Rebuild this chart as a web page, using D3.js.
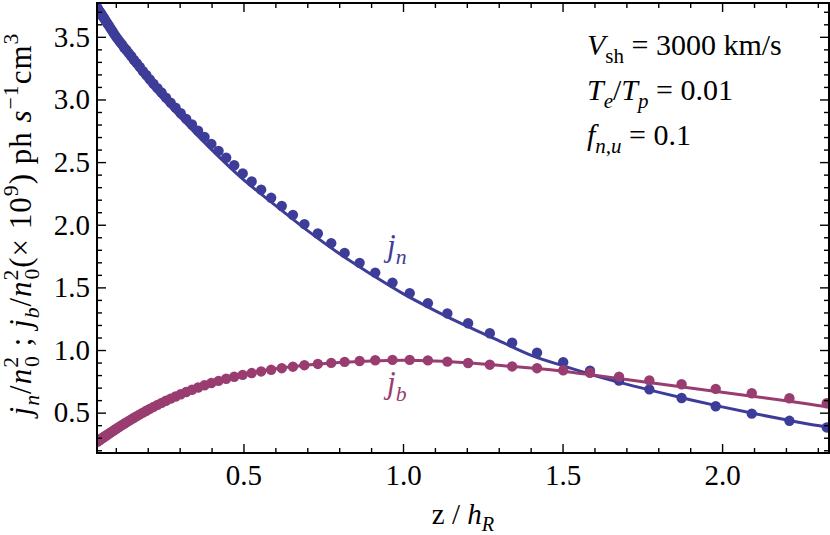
<!DOCTYPE html>
<html>
<head>
<meta charset="utf-8">
<script src="https://cdn.jsdelivr.net/npm/d3@7"></script>
<style>
  body { margin: 0; background: white; }
  svg text { font-family: "Liberation Serif", "Times New Roman", serif; }
</style>
</head>
<body>
<div id="chart"></div>
<script>
// data
var zDots = [0.0397, 0.0420, 0.0443, 0.0468, 0.0495, 0.0523, 0.0552, 0.0583, 0.0616, 0.0651,
  0.0688, 0.0727, 0.0768, 0.0811, 0.0857, 0.0906, 0.0957, 0.1011, 0.1068, 0.1128,
  0.1192, 0.1259, 0.1330, 0.1405, 0.1485, 0.1569, 0.1657, 0.1751, 0.1850, 0.1955,
  0.2065, 0.2182, 0.2305, 0.2435, 0.2573, 0.2718, 0.2872, 0.3034, 0.3206, 0.3387,
  0.3578, 0.3780, 0.3994, 0.4220, 0.4458, 0.4710, 0.4976, 0.5257, 0.5554, 0.5868,
  0.620, 0.655, 0.691, 0.733, 0.775, 0.817, 0.864, 0.913, 0.967, 1.021,
  1.078, 1.139, 1.204, 1.272, 1.342, 1.420, 1.502, 1.586, 1.677, 1.772,
  1.873, 1.980, 2.093, 2.211, 2.328];
var jnDots = [3.74, 3.73, 3.72, 3.71, 3.70, 3.69, 3.68, 3.665, 3.655, 3.64,
  3.625, 3.61, 3.595, 3.578, 3.56, 3.54, 3.52, 3.50, 3.48, 3.46,
  3.44, 3.415, 3.395, 3.37, 3.345, 3.315, 3.29, 3.26, 3.225, 3.195,
  3.16, 3.125, 3.09, 3.055, 3.015, 2.975, 2.935, 2.89, 2.845, 2.80,
  2.75, 2.70, 2.645, 2.59, 2.535, 2.475, 2.41, 2.345, 2.28, 2.215,
  2.15, 2.079, 2.005, 1.93, 1.853, 1.775, 1.696, 1.618, 1.538, 1.454,
  1.374, 1.292, 1.214, 1.134, 1.058, 0.978, 0.903, 0.835, 0.757, 0.686,
  0.617, 0.551, 0.492, 0.435, 0.382];
var jbDots = [0.266, 0.270, 0.274, 0.278, 0.283, 0.288, 0.293, 0.298, 0.304, 0.310,
  0.316, 0.323, 0.330, 0.337, 0.345, 0.353, 0.362, 0.371, 0.380, 0.390,
  0.400, 0.411, 0.422, 0.434, 0.446, 0.459, 0.472, 0.486, 0.500, 0.515,
  0.530, 0.546, 0.562, 0.578, 0.595, 0.612, 0.629, 0.647, 0.665, 0.683,
  0.701, 0.719, 0.737, 0.754, 0.771, 0.787, 0.802, 0.816, 0.829, 0.842,
  0.855, 0.867, 0.879, 0.889, 0.897, 0.905, 0.912, 0.918, 0.921, 0.921,
  0.917, 0.907, 0.896, 0.883, 0.869, 0.855, 0.838, 0.818, 0.788, 0.758,
  0.727, 0.690, 0.655, 0.615, 0.575];

var zLine = [0.041, 0.1, 0.2, 0.3, 0.4, 0.5, 0.6, 0.7, 0.8, 0.9, 1.0, 1.1, 1.2,
  1.3, 1.4, 1.5, 1.6, 1.7, 1.8, 1.9, 2.0, 2.1, 2.2, 2.3, 2.335];
var jnLine = [3.71, 3.47, 3.14, 2.86, 2.60, 2.36, 2.155, 1.955, 1.77, 1.605, 1.45, 1.315, 1.19,
  1.075, 0.96, 0.875, 0.797, 0.728, 0.664, 0.603, 0.546, 0.493, 0.443, 0.397, 0.383];
var jbLine = [0.262, 0.372, 0.53, 0.655, 0.745, 0.808, 0.851, 0.881, 0.901, 0.913, 0.918, 0.913, 0.899,
  0.878, 0.856, 0.831, 0.799, 0.765, 0.731, 0.697, 0.663, 0.629, 0.595, 0.558, 0.545];

var xMajor = [0.5, 1.0, 1.5, 2.0];
var yMajor = [0.5, 1.0, 1.5, 2.0, 2.5, 3.0, 3.5];
var xMinor = [0.1, 0.2, 0.3, 0.4, 0.6, 0.7, 0.8, 0.9, 1.1, 1.2, 1.3, 1.4, 1.6, 1.7, 1.8, 1.9, 2.1, 2.2, 2.3];
var yMinor = [0.2, 0.3, 0.4, 0.6, 0.7, 0.8, 0.9, 1.1, 1.2, 1.3, 1.4, 1.6, 1.7, 1.8, 1.9,
  2.1, 2.2, 2.3, 2.4, 2.6, 2.7, 2.8, 2.9, 3.1, 3.2, 3.3, 3.4, 3.6, 3.7];

var blue = '#3d3d99', plum = '#993d71';
var plotL = 97, plotR = 829, plotT = 3, plotB = 453;

var svg = d3.select('#chart').append('svg')
    .attr('width', 830).attr('height', 535);

var x = d3.scaleLinear().domain([0.041, 2.335]).range([plotL, plotR]);
var y = d3.scaleLinear().domain([0.178, 3.77]).range([plotB, plotT]);

svg.append('clipPath').attr('id', 'plot-clip')
  .append('rect').attr('x', plotL).attr('y', plotT)
    .attr('width', plotR - plotL).attr('height', plotB - plotT);

var plot = svg.append('g').attr('clip-path', 'url(#plot-clip)');

var line = d3.line().curve(d3.curveMonotoneX)
    .x(function(d) { return x(d[0]); })
    .y(function(d) { return y(d[1]); });

function series(vals, zs) {
  return zs.map(function(z, i) { return [z, vals[i]]; });
}

plot.append('path').datum(series(jnLine, zLine))
    .attr('d', line).attr('fill', 'none').attr('stroke', blue).attr('stroke-width', 3);
plot.append('path').datum(series(jbLine, zLine))
    .attr('d', line).attr('fill', 'none').attr('stroke', plum).attr('stroke-width', 3);

plot.selectAll('circle.jn').data(series(jnDots, zDots)).enter().append('circle')
    .attr('class', 'jn').attr('r', 5.2).attr('fill', blue)
    .attr('cx', function(d) { return x(d[0]); })
    .attr('cy', function(d) { return y(d[1]); });
plot.selectAll('circle.jb').data(series(jbDots, zDots)).enter().append('circle')
    .attr('class', 'jb').attr('r', 5.2).attr('fill', plum)
    .attr('cx', function(d) { return x(d[0]); })
    .attr('cy', function(d) { return y(d[1]); });

// axes: ticks point inward on all four sides
function styleAxis(g) {
  g.select('.domain').remove();
  g.selectAll('.tick line').attr('stroke', 'black').attr('stroke-width', 1.4);
  g.selectAll('.tick text').attr('fill', 'black').attr('font-size', 29)
    .style('font-family', '"Liberation Serif", serif');
}
var fmt = d3.format('.1f');

svg.append('g').attr('transform', 'translate(0,' + plotB + ')')
    .call(d3.axisBottom(x).tickValues(xMajor).tickSize(-9).tickPadding(11).tickFormat(fmt))
    .call(styleAxis);
svg.append('g').attr('transform', 'translate(0,' + plotB + ')')
    .call(d3.axisBottom(x).tickValues(xMinor).tickSize(-5).tickFormat(''))
    .call(styleAxis);
svg.append('g').attr('transform', 'translate(0,' + plotT + ')')
    .call(d3.axisTop(x).tickValues(xMajor).tickSize(-9).tickFormat(''))
    .call(styleAxis);
svg.append('g').attr('transform', 'translate(0,' + plotT + ')')
    .call(d3.axisTop(x).tickValues(xMinor).tickSize(-5).tickFormat(''))
    .call(styleAxis);

svg.append('g').attr('transform', 'translate(' + plotL + ',0)')
    .call(d3.axisLeft(y).tickValues(yMajor).tickSize(-9).tickPadding(7).tickFormat(fmt))
    .call(styleAxis);
svg.append('g').attr('transform', 'translate(' + plotL + ',0)')
    .call(d3.axisLeft(y).tickValues(yMinor).tickSize(-5).tickFormat(''))
    .call(styleAxis);
svg.append('g').attr('transform', 'translate(' + plotR + ',0)')
    .call(d3.axisRight(y).tickValues(yMajor).tickSize(-9).tickFormat(''))
    .call(styleAxis);
svg.append('g').attr('transform', 'translate(' + plotR + ',0)')
    .call(d3.axisRight(y).tickValues(yMinor).tickSize(-5).tickFormat(''))
    .call(styleAxis);

svg.append('rect').attr('x', plotL).attr('y', plotT)
    .attr('width', plotR - plotL).attr('height', plotB - plotT)
    .attr('fill', 'none').attr('stroke', 'black').attr('stroke-width', 2);

// rich text helper: each part is [text, italic, shift, dx] with shift 'sub'/'sup'
function rich(sel, parts, size) {
  var base = 0;
  parts.forEach(function(p) {
    var t = sel.append('tspan').text(p[0]);
    if (p[1]) t.attr('font-style', 'italic');
    var target = 0, fs = size;
    if (p[2] === 'sub') { target = 0.25 * size; fs = size * 0.7; }
    if (p[2] === 'sup') { target = -0.42 * size; fs = size * 0.7; }
    t.attr('font-size', fs).attr('dy', target - base);
    if (p[3]) t.attr('dx', p[3]);
    base = target;
  });
}

// x label
var xl = svg.append('text').attr('x', 463).attr('y', 524)
    .attr('text-anchor', 'middle').attr('font-size', 29);
rich(xl, [['z / ', false], ['h', true], ['R', true, 'sub']], 29);

// y label
var yl = svg.append('text')
    .attr('transform', 'translate(31,' + 224 + ') rotate(-90)')
    .attr('text-anchor', 'middle').attr('font-size', 31)
    .attr('letter-spacing', 1);
rich(yl, [['j', true], ['n', true, 'sub'], ['/', false], ['n', true], ['2', false, 'sup'], ['0', false, 'sub', -11],
  [' ;  ', false], ['j', true], ['b', true, 'sub'], ['/', false], ['n', true], ['2', false, 'sup'], ['0', false, 'sub', -11],
  ['(\u00d7 10', false], ['9', false, 'sup'], [') ph ', false], ['s', true], ['\u22121', false, 'sup'],
  ['cm', false], ['3', false, 'sup']], 31);

// parameter box
var ann = [
  [['V', true], ['sh', false, 'sub'], [' = 3000 km/s', false]],
  [['T', true], ['e', true, 'sub'], ['/', false], ['T', true], ['p', true, 'sub'], [' = 0.01', false]],
  [['f', true], ['n,u', true, 'sub'], [' = 0.1', false]]
];
ann.forEach(function(parts, i) {
  var t = svg.append('text').attr('x', 587).attr('y', 55 + i * 45).attr('font-size', 30);
  rich(t, parts, 30);
});

// curve labels
var ln = svg.append('text').attr('x', 387).attr('y', 256).attr('fill', blue).attr('font-size', 31);
rich(ln, [['j', true], ['n', true, 'sub']], 31);
var lb = svg.append('text').attr('x', 387).attr('y', 393).attr('fill', plum).attr('font-size', 31);
rich(lb, [['j', true], ['b', true, 'sub']], 31);
</script>
</body>
</html>
